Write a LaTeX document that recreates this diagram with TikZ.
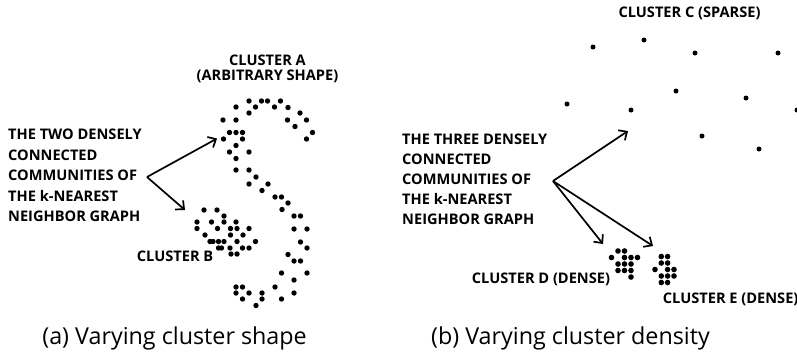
\documentclass[tikz,border=0pt]{standalone}
\usepackage{fontspec}
\setmainfont{Open Sans}
\newfontfamily\labfamily{Open Sans}
\usetikzlibrary{arrows.meta}
\begin{document}
\begin{tikzpicture}[x=1pt,y=-1pt,
  lab/.style={inner sep=0pt, font=\labfamily\bfseries\fontsize{14.6}{20.5}\selectfont},
  captext/.style={inner sep=0pt, font=\fontsize{23.3}{26}\selectfont},
  arr/.style={line width=1.7pt, -{Straight Barb[length=6.5pt,width=12pt]}}]
\useasboundingbox (0,0) rectangle (797,357);

% ---------- panel (a): cluster A (S shape)
\foreach \x/\y in {249/101,261.5/101,267.5/101,280.5/101,
  236/107,255.5/107,274.5/107,288/107.5,
  249/113,300/113,
  223/120,236/120,287.5/120,306.5/120,
  295/126.5,
  229.5/132.5,236/132.5,242.5/132.5,312.5/132.5,
  223.5/139,242.5/139,306.5/139,
  236/145.5,
  229.5/152,249/152,
  236/158.5,
  236/170,249/170,
  256/177,
  249/184,268/184,
  262/190.5,
  275/197,281.5/197,
  288/203,
  282/209.5,
  294/216,300.5/216,
  294/229,307/229,
  300.5/242,
  307/248,
  288/254.5,
  294/261,300.5/261,
  281.5/273,307/273,
  294/280,
  275/287,
  294/293,
  281.5/299,
  236/287,242.5/287,
  236/293,249/293,262/293,
  242.5/299,262/299,
  256/305.5}
  \fill (\x,\y) circle (2.7pt);

% ---------- panel (a): cluster B (blob)
\foreach \x/\y in {204/210,217/210,
  224/216,
  197/222,211.5/222,224/222,236/222,
  197/228.5,217.5/228.5,230.5/228.5,237/228.5,249/228.5,
  205/235,230.5/235,243/235,
  210/241.5,213/241.5,218.5/241.5,224/241.5,237/241.5,255.5/241.5,
  218.5/248,221.5/248,230/248,242.5/248,249/248,
  231/254,237/254}
  \fill (\x,\y) circle (2.7pt);

% ---------- panel (b): cluster C (sparse)
\foreach \x/\y in {593/47,644/40,695/53,778/53,676/91,746/98,
  567/104,631/110,797/110,702/136,759/149}
  \fill (\x,\y) circle (2.5pt);

% ---------- panel (b): cluster D (dense)
\foreach \x/\y in {618/251,624.5/251,
  611.5/257.5,624.5/257.5,631/257.5,637.5/257.5,
  618/264,624.5/264,631/264,
  618/270.5,624.5/270.5,631/270.5,
  631/277}
  \fill (\x,\y) circle (2.8pt);

% ---------- panel (b): cluster E (dense)
\foreach \x/\y in {661.3/256.5,667.6/256.5,
  661.3/263,667.6/263,
  655/269.5,667.6/269.5,674/269.5,
  661.3/276,667.6/276,674/276,
  661.3/282.5,667.6/282.5}
  \fill (\x,\y) circle (2.8pt);

% ---------- labels
\node[lab, anchor=north, align=center, font=\labfamily\bfseries\fontsize{14.6}{15}\selectfont]
  (labA) at (267.5,54.8) {CLUSTER A\\(ARBITRARY SHAPE)};
\node[lab, anchor=base west] (labB) at (136.7,261.7) {CLUSTER B};
\node[lab, anchor=north west, align=left] (commA) at (8,128.9)
  {THE TWO DENSELY\\CONNECTED\\COMMUNITIES OF\\THE k-NEAREST\\NEIGHBOR GRAPH};
\node[lab, anchor=north west, align=left, font=\labfamily\bfseries\fontsize{14.6}{20}\selectfont] (commB) at (402,133.9)
  {THE THREE DENSELY\\CONNECTED\\COMMUNITIES OF\\THE k-NEAREST\\NEIGHBOR GRAPH};
\node[lab, anchor=base west] (labC) at (618.3,17.3) {CLUSTER C (SPARSE)};
\node[lab, anchor=base west] (labD) at (471.7,283.3) {CLUSTER D (DENSE)};
\node[lab, anchor=base west] (labE) at (662.7,303.3) {CLUSTER E (DENSE)};

\node[captext, anchor=base east] (capA) at (307,344.7) {(a) Varying cluster shape};
\node[captext, anchor=base west] (capB) at (431,344.7) {(b) Varying cluster density};

% ---------- arrows
\coordinate (srcA) at (147,177);
\coordinate (tipA1) at (217,138.5);
\coordinate (tipA2) at (185,210);
\coordinate (srcB) at (553,181);
\coordinate (tipB1) at (628,131);
\coordinate (tipB2) at (603,244);
\coordinate (tipB3) at (653,246);
\draw[arr] (srcA) -- (tipA1);
\draw[arr] (srcA) -- (tipA2);
\draw[arr] (srcB) -- (tipB1);
\draw[arr] (srcB) -- (tipB2);
\draw[arr] (srcB) -- (tipB3);
\end{tikzpicture}
\end{document}
